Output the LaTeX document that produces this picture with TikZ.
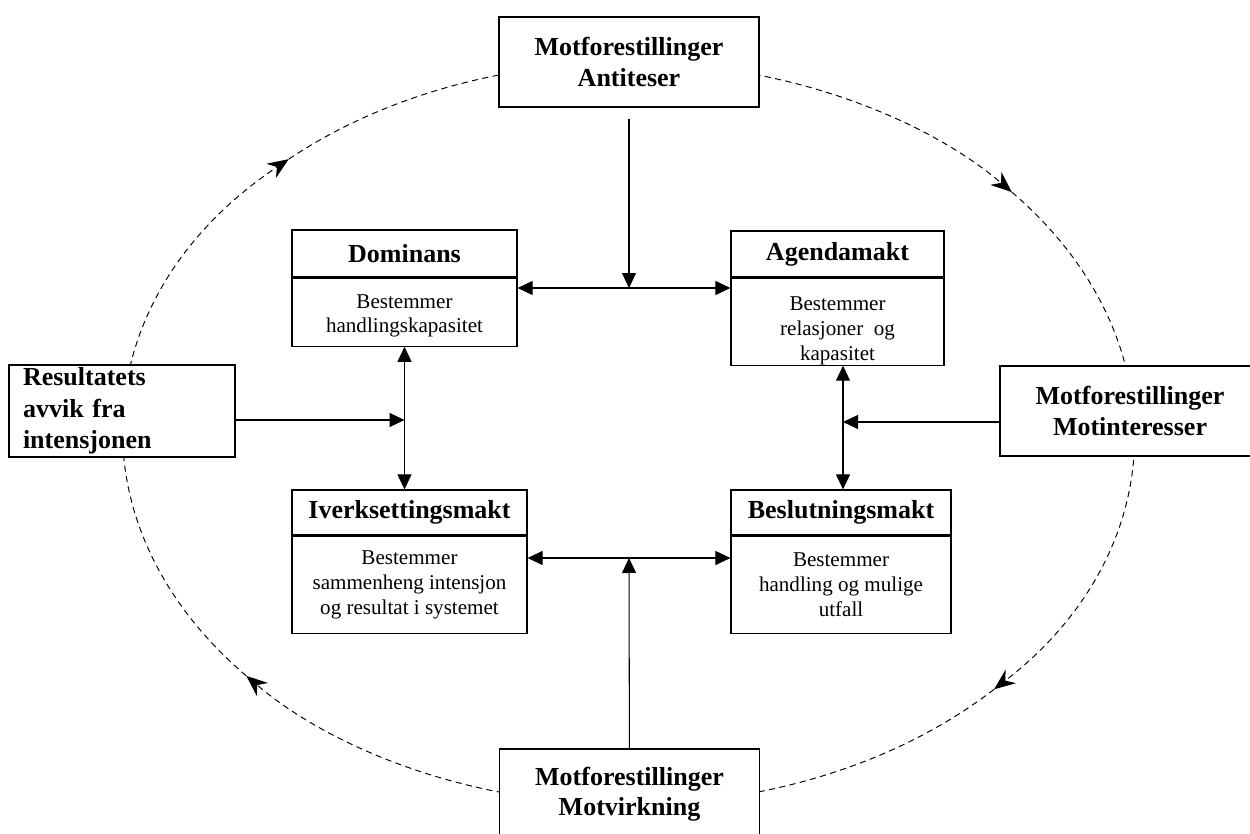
\documentclass[tikz,border=0pt]{standalone}
\usepackage{fontspec}
\setmainfont{Liberation Serif}
\usetikzlibrary{positioning,arrows.meta}
\tikzset{
  headbox/.style={draw,fill=white,line width=.7pt,inner sep=0pt,align=center,font=\fontsize{14.8}{17}\selectfont\bfseries},
  bodybox/.style={draw,fill=white,line width=.7pt,inner sep=0pt,align=center,font=\fontsize{12}{14.2}\selectfont},
  outerbox/.style={draw,fill=white,line width=.7pt,inner sep=0pt,align=center,minimum height=1.8cm,font=\fontsize{14.8}{17.2}\selectfont\bfseries},
  divline/.style={line width=1.3pt},
  arr/.style={-{Triangle[length=3mm,width=2.8mm]},line width=.6pt},
  dblarr/.style={{Triangle[length=3mm,width=2.8mm]}-{Triangle[length=3mm,width=2.8mm]},line width=.6pt},
  cyclearr/.style={-{Stealth[length=4.2mm,width=3.4mm]},line width=.55pt,dash pattern=on 3.5pt off 2.5pt}
}
\begin{document}
\begin{tikzpicture}[x=0.02cm,y=-0.02cm]
  \useasboundingbox (0,0) rectangle (1250,834);
  \clip (0,0) rectangle (1250,834);
  % dashed cycle behind the boxes
  \coordinate (ctr) at (628.5,433.5);
  \draw[cyclearr] ([shift={(220.8:10.1cm and 7.42cm)}]ctr) arc[start angle=220.8,end angle=132.3,x radius=10.1cm,y radius=7.42cm];
  \draw[cyclearr] ([shift={(132.3:10.1cm and 7.42cm)}]ctr) arc[start angle=132.3,end angle=40.6,x radius=10.1cm,y radius=7.42cm];
  \draw[cyclearr] ([shift={(40.6:10.1cm and 7.42cm)}]ctr) arc[start angle=40.6,end angle=-43.6,x radius=10.1cm,y radius=7.42cm];
  \draw[cyclearr] ([shift={(-43.6:10.1cm and 7.42cm)}]ctr) arc[start angle=-43.6,end angle=-139.2,x radius=10.1cm,y radius=7.42cm];

  % outer boxes
  \node[outerbox,minimum width=5.2cm] (anti) at (629,62) {Motforestillinger\\Antiteser};
  \node[outerbox,minimum width=5.2cm] (motvirk) at (629.5,794) {Motforestillinger\\Motvirkning};
  \node[outerbox,minimum width=5.2cm] (motint) at (1130,411) {Motforestillinger\\Motinteresser};
  \node[outerbox,align=left,text width=3.96cm,inner xsep=0.28cm,minimum height=1.84cm,font=\fontsize{14.8}{17.8}\selectfont\bfseries] (resultat) at (122,411) {Resultatets\\avvik fra\\intensjonen};

  % the four kinds of power
  \node[headbox,minimum width=4.5cm,minimum height=0.94cm] (domhead) at (404.5,253.5) {Dominans};
  \node[bodybox,minimum width=4.5cm,minimum height=1.36cm,below=0pt of domhead] (dombody) {\rule{0pt}{12pt}Bestemmer\\handlingskapasitet};
  \node[headbox,minimum width=4.26cm,minimum height=0.92cm] (aghead) at (837.5,254) {Agendamakt};
  \node[bodybox,minimum width=4.26cm,minimum height=1.72cm,below=0pt of aghead] (agbody) {\rule{0pt}{18.5pt}Bestemmer\\relasjoner~ og\\kapasitet};
  \node[headbox,minimum width=4.7cm,minimum height=0.9cm] (ivhead) at (409.5,512.5) {Iverksettingsmakt};
  \node[bodybox,minimum width=4.7cm,minimum height=1.94cm,below=0pt of ivhead] (ivbody) {Bestemmer\\sammenheng intensjon\\og resultat i systemet};
  \node[headbox,minimum width=4.4cm,minimum height=0.9cm] (bshead) at (841,512.5) {Beslutningsmakt};
  \node[bodybox,minimum width=4.4cm,minimum height=1.94cm,below=0pt of bshead] (bsbody) {Bestemmer\\handling og mulige\\utfall};
  \foreach \h in {domhead,aghead,ivhead,bshead}
    \draw[divline] (\h.south west) -- (\h.south east);

  % connectors
  \coordinate (topjoin) at (629,288);
  \coordinate (botjoin) at (629,558);
  \coordinate (leftjoin) at (404.5,420);
  \coordinate (rightjoin) at (843,422);
  \draw[dblarr] (dombody.east |- topjoin) -- (agbody.west |- topjoin);
  \draw[arr,shorten <=0.22cm] (anti) -- (topjoin);
  \draw[dblarr] (ivbody.east |- botjoin) -- (bsbody.west |- botjoin);
  \draw[arr] (motvirk) -- (botjoin);
  \draw[dblarr] (dombody.south) -- (dombody.south |- ivhead.north);
  \draw[arr] (resultat.east |- leftjoin) -- (leftjoin);
  \draw[dblarr] (rightjoin |- agbody.south) -- (rightjoin |- bshead.north);
  \draw[arr] (motint.west |- rightjoin) -- (rightjoin);
\end{tikzpicture}
\end{document}
